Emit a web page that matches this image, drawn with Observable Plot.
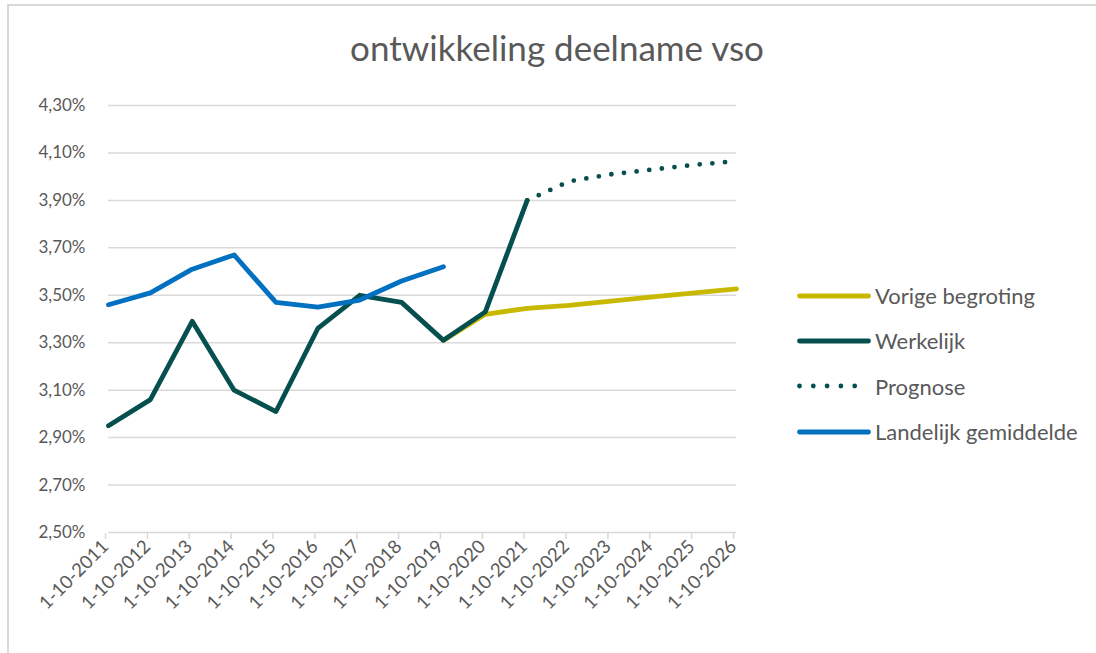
<!DOCTYPE html>
<html>
<head>
<meta charset="utf-8">
<script src="https://cdn.jsdelivr.net/npm/d3@7"></script>
<script src="https://cdn.jsdelivr.net/npm/@observablehq/plot@0.6"></script>
<style>
  html, body { margin: 0; padding: 0; background: #fff; }
  body { width: 1096px; height: 653px; position: relative; overflow: hidden; font-family: Lato, "Open Sans", sans-serif; }
  #frame { position: absolute; left: 7px; top: 4px; width: 1200px; height: 800px; border-top: 2px solid #d9d9d9; border-left: 2px solid #d9d9d9; }
  #title { position: absolute; left: 0; width: 1114px; top: 26px; text-align: center; font-size: 35px; color: #595959; }
  #chart { position: absolute; left: 0; top: 80px; }
  #legend { position: absolute; left: 797px; top: 273px; color: #595959; font-size: 22px; }
  .row { display: flex; align-items: center; height: 45.3px; }
  .row svg { margin-right: 4px; }
</style>
</head>
<body>
<div id="frame"></div>
<div id="title">ontwikkeling deelname vso</div>
<div id="chart"></div>
<div id="legend"></div>
<script>
const years = ["1-10-2011","1-10-2012","1-10-2013","1-10-2014","1-10-2015","1-10-2016","1-10-2017","1-10-2018","1-10-2019","1-10-2020","1-10-2021","1-10-2022","1-10-2023","1-10-2024","1-10-2025","1-10-2026"];
const vorigeBegroting = [null,null,null,null,null,null,null,null,3.31,3.42,3.445,3.457,3.475,3.493,3.51,3.527];
const werkelijk = [2.95,3.06,3.39,3.10,3.01,3.36,3.50,3.47,3.31,3.43,3.90,null,null,null,null,null];
const prognose = [null,null,null,null,null,null,null,null,null,null,3.90,3.98,4.01,4.03,4.05,4.065];
const landelijk = [3.46,3.51,3.61,3.67,3.47,3.45,3.48,3.56,3.62,null,null,null,null,null,null,null];
const yTicks = [2.5,2.7,2.9,3.1,3.3,3.5,3.7,3.9,4.1,4.3];

const seriesNames = ["Vorige begroting","Werkelijk","Prognose","Landelijk gemiddelde"];
const seriesValues = [vorigeBegroting, werkelijk, prognose, landelijk];
const colors = ["#c8b800","#064f4f","#064f4f","#0070c0"];
const dashed = [false,false,true,false];

const rows = (vals) => years.map((y,i)=>({year:y, v:vals[i]})).filter(d=>d.v!=null);
const fmt = d => d.toFixed(2).replace(".", ",") + "%";

const marks = [
  Plot.gridY(yTicks, {stroke:"#d9d9d9", strokeOpacity:1, strokeWidth:1.5}),
  Plot.axisY(yTicks, {tickSize:0, tickPadding:23, tickFormat:fmt, fontSize:17, fill:"#595959", label:null}),
  Plot.axisX({tickSize:6, stroke:"#d9d9d9", strokeWidth:1.5, tickRotate:-45, fontSize:18.5, fill:"#595959", tickPadding:4, dx:-3, dy:1, label:null}),
];
seriesValues.forEach((vals,i)=>{
  marks.push(Plot.lineY(rows(vals), {
    x:"year", y:"v", stroke:colors[i], strokeWidth:4.8,
    strokeLinecap:"round", strokeLinejoin:"round",
    strokeDasharray: dashed[i] ? "0,12.7" : null
  }));
});

const chart = Plot.plot({
  width: 780, height: 573,
  marginLeft: 108, marginRight: 44, marginTop: 25, marginBottom: 121,
  style: {fontFamily: "Lato, 'Open Sans', sans-serif", background: "transparent", overflow: "visible"},
  x: {type:"point", domain: years, padding: 0, round: false},
  y: {domain:[2.5,4.3]},
  marks
});
document.getElementById("chart").appendChild(chart);

const legend = document.getElementById("legend");
seriesNames.forEach((name,i)=>{
  const row = document.createElement("div"); row.className = "row";
  const s = d3.create("svg").attr("width",74).attr("height",10);
  s.append("line").attr("x1",2.5).attr("x2",71.5).attr("y1",5).attr("y2",5)
    .attr("stroke",colors[i]).attr("stroke-width",4.8).attr("stroke-linecap","round")
    .attr("stroke-dasharray", dashed[i] ? "0,13.8" : null);
  row.appendChild(s.node());
  const t = document.createElement("span"); t.textContent = name;
  row.appendChild(t);
  legend.appendChild(row);
});
</script>
</body>
</html>
